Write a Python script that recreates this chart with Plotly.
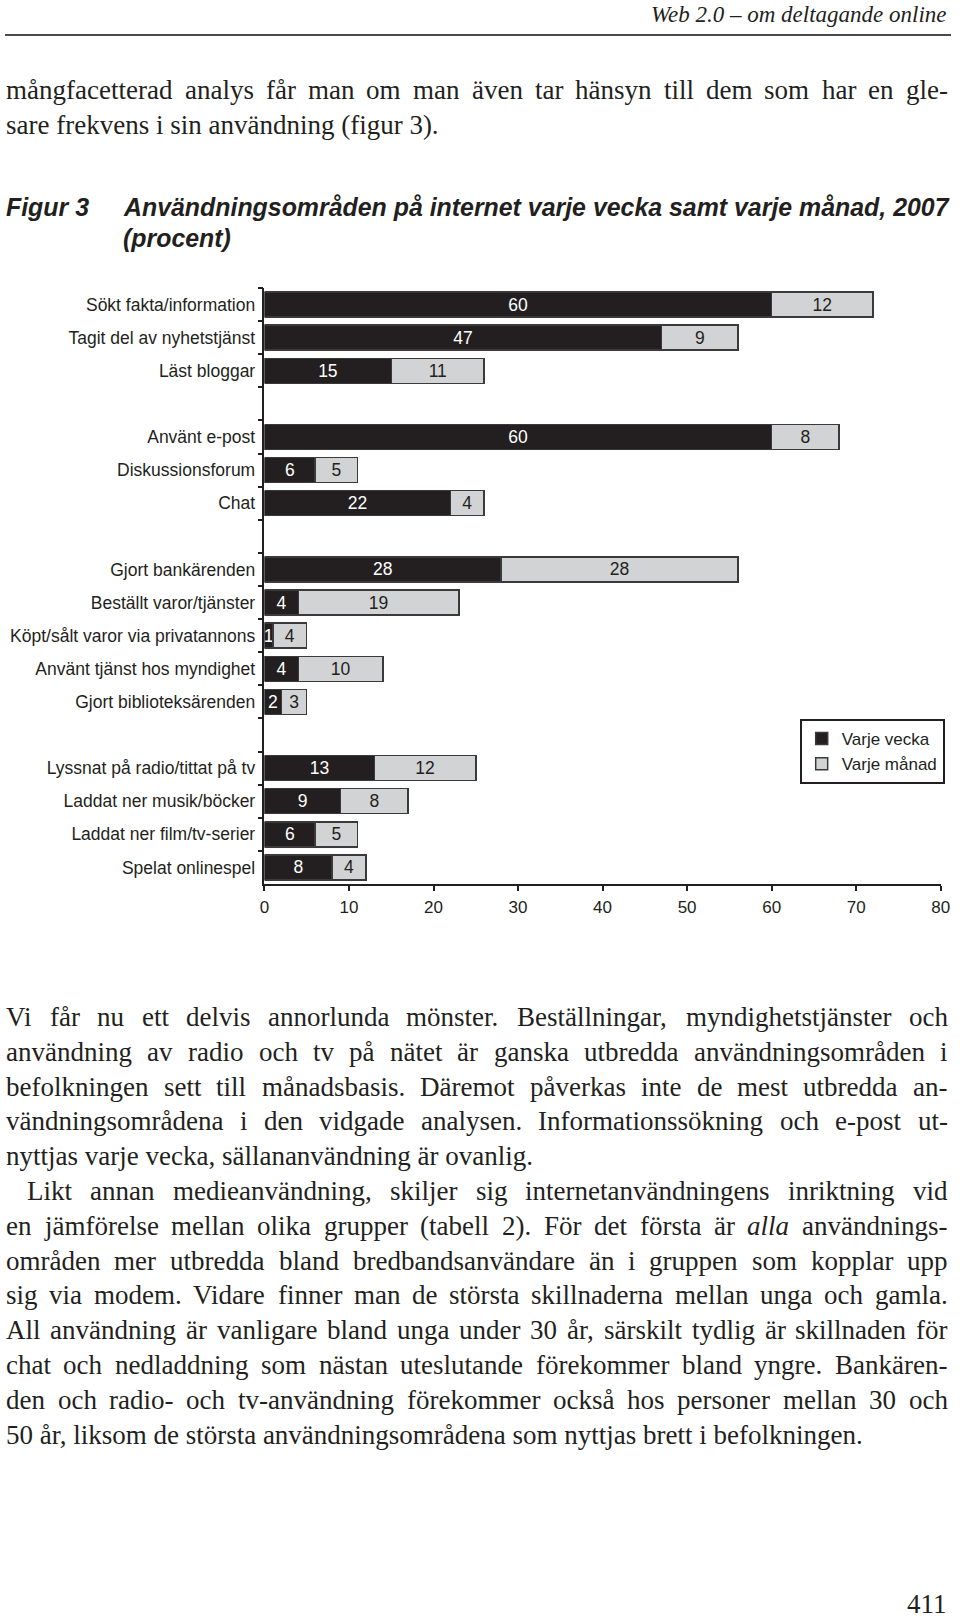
import plotly.graph_objects as go

# ---------------- data ----------------
categories = [
    "Sökt fakta/information", "Tagit del av nyhetstjänst", "Läst bloggar", " ",
    "Använt e-post", "Diskussionsforum", "Chat", "  ",
    "Gjort bankärenden", "Beställt varor/tjänster", "Köpt/sålt varor via privatannons",
    "Använt tjänst hos myndighet", "Gjort biblioteksärenden", "   ",
    "Lyssnat på radio/tittat på tv", "Laddat ner musik/böcker",
    "Laddat ner film/tv-serier", "Spelat onlinespel",
]
weekly = [60, 47, 15, None, 60, 6, 22, None, 28, 4, 1, 4, 2, None, 13, 9, 6, 8]
monthly = [12, 9, 11, None, 8, 5, 4, None, 28, 19, 4, 10, 3, None, 12, 8, 5, 4]
series_names = ["Varje vecka", "Varje månad"]
x_ticks = [0, 10, 20, 30, 40, 50, 60, 70, 80]

header_text = "Web 2.0 – om deltagande online"
fig_label = "Figur 3"
title_lines = ["Användningsområden på internet varje vecka samt varje månad, 2007", "(procent)"]
page_number = "411"

intro_lines = [
    ("mångfacetterad analys får man om man även tar hänsyn till dem som har en gle-", True, 0),
    ("sare frekvens i sin användning (figur 3).", False, 0),
]
body_lines = [
    ("Vi får nu ett delvis annorlunda mönster. Beställningar, myndighetstjänster och", True, 0),
    ("användning av radio och tv på nätet är ganska utbredda användningsområden i", True, 0),
    ("befolkningen sett till månadsbasis. Däremot påverkas inte de mest utbredda an-", True, 0),
    ("vändningsområdena i den vidgade analysen. Informationssökning och e-post ut-", True, 0),
    ("nyttjas varje vecka, sällananvändning är ovanlig.", False, 0),
    ("Likt annan medieanvändning, skiljer sig internetanvändningens inriktning vid", True, 21),
    ("en jämförelse mellan olika grupper (tabell 2). För det första är *alla* användnings-", True, 0),
    ("områden mer utbredda bland bredbandsanvändare än i gruppen som kopplar upp", True, 0),
    ("sig via modem. Vidare finner man de största skillnaderna mellan unga och gamla.", True, 0),
    ("All användning är vanligare bland unga under 30 år, särskilt tydlig är skillnaden för", True, 0),
    ("chat och nedladdning som nästan uteslutande förekommer bland yngre. Bankären-", True, 0),
    ("den och radio- och tv-användning förekommer också hos personer mellan 30 och", True, 0),
    ("50 år, liksom de största användningsområdena som nyttjas brett i befolkningen.", False, 0),
]

# ---------------- page geometry helpers ----------------
W, H = 960, 1618
# the viewer shows the figure about 944 px wide, starting ~6 px from the left
X_OFF, X_EFF = 6.0, 944.3


def px(xp):
    return (xp - X_OFF) / X_EFF


def py(yp):
    return 1 - yp / H


DARK = "#231f20"
LIGHT = "#d1d3d4"
EDGE = "#3a3a3a"
INK = "#231f20"
SANS = "Liberation Sans, Arial, sans-serif"
SERIF = "Liberation Serif, Times New Roman, serif"

fig = go.Figure()

fig.add_trace(go.Bar(
    y=categories, x=weekly, orientation="h", name=series_names[0],
    marker=dict(color=DARK, line=dict(color=EDGE, width=1.5)),
    text=["" if v is None else str(v) for v in weekly],
    textposition="inside", insidetextanchor="middle", textangle=0,
    constraintext="none", cliponaxis=False,
    textfont=dict(family=SANS, size=17.5, color="white"),
    hoverinfo="skip",
))
fig.add_trace(go.Bar(
    y=categories, x=monthly, orientation="h", name=series_names[1],
    marker=dict(color=LIGHT, line=dict(color=EDGE, width=1.5)),
    text=["" if v is None else str(v) for v in monthly],
    textposition="inside", insidetextanchor="middle", textangle=0,
    constraintext="none", cliponaxis=False,
    textfont=dict(family=SANS, size=17.5, color=INK),
    hoverinfo="skip",
))

annotations = []
RIGHT_EDGE = 947

# header
annotations.append(dict(text=f"<i>{header_text}</i>", x=px(RIGHT_EDGE), y=py(14), xref="paper", yref="paper",
                        xanchor="right", yanchor="middle", showarrow=False, borderpad=0,
                        font=dict(family=SERIF, size=23, color=INK)))
# page number
annotations.append(dict(text=page_number, x=px(RIGHT_EDGE), y=py(1604), xref="paper", yref="paper",
                        xanchor="right", yanchor="middle", showarrow=False, borderpad=0,
                        font=dict(family=SERIF, size=27, color=INK)))
# figure title
TITLE_FONT = "Liberation Sans, Arial, sans-serif"
TITLE_SIZE = 24.9
annotations.append(dict(text=f"<b><i>{fig_label}</i></b>", x=px(6), y=py(207), xref="paper", yref="paper",
                        xanchor="left", yanchor="middle", showarrow=False, borderpad=0,
                        font=dict(family=TITLE_FONT, size=TITLE_SIZE, color=INK)))
for i, t in enumerate(title_lines):
    annotations.append(dict(text=f"<b><i>{t}</i></b>", x=px(123), y=py(207 + 31 * i), xref="paper", yref="paper",
                            xanchor="left", yanchor="middle", showarrow=False, borderpad=0,
                            font=dict(family=TITLE_FONT, size=TITLE_SIZE, color=INK)))

# ---------------- justified serif body text (Times metrics) ----------------
TW = {' ': 250, '(': 333, ')': 333, ',': 250, '-': 333, '.': 250, '/': 278, ':': 278, '–': 500,
      'A': 722, 'B': 667, 'C': 667, 'D': 722, 'E': 611, 'F': 556, 'G': 722, 'H': 722, 'I': 333,
      'J': 389, 'K': 722, 'L': 611, 'M': 889, 'N': 722, 'O': 722, 'P': 556, 'Q': 722, 'R': 667,
      'S': 556, 'T': 611, 'U': 722, 'V': 722, 'W': 944, 'X': 722, 'Y': 722, 'Z': 611,
      'a': 444, 'b': 500, 'c': 444, 'd': 500, 'e': 444, 'f': 333, 'g': 500, 'h': 500, 'i': 278,
      'j': 278, 'k': 500, 'l': 278, 'm': 778, 'n': 500, 'o': 500, 'p': 500, 'q': 500, 'r': 333,
      's': 389, 't': 278, 'u': 500, 'v': 500, 'w': 722, 'x': 500, 'y': 500, 'z': 444,
      'å': 444, 'ä': 444, 'ö': 500, 'Ä': 722, 'Ö': 722, 'Å': 722}
TWI = {'a': 500, 'l': 278}


def word_units(w):
    if w.startswith('*') and w.endswith('*'):
        return sum(TWI.get(c, 500) for c in w.strip('*'))
    return sum(TW.get(c, 500) for c in w)


LEFT, RIGHT = 6, RIGHT_EDGE - 1
all_lines = intro_lines + body_lines
fit = []
for line, just, indent in all_lines:
    ws = line.split(' ')
    units = sum(word_units(w) for w in ws) + 250 * (len(ws) - 1)
    fit.append((RIGHT - LEFT - indent) * 1000 / units)
BODY_SIZE = min(min(fit), 27)


def place_lines(lines, y0, dy):
    for k, (line, just, indent) in enumerate(lines):
        yc = y0 + k * dy
        if not just:
            annotations.append(dict(text=line, x=px(LEFT + indent), y=py(yc), xref="paper", yref="paper",
                                    xanchor="left", yanchor="middle", showarrow=False, borderpad=0,
                                    font=dict(family=SERIF, size=BODY_SIZE, color=INK)))
            continue
        ws = line.split(' ')
        wpx = [word_units(w) * BODY_SIZE / 1000 for w in ws]
        gap = (RIGHT - LEFT - indent - sum(wpx)) / (len(ws) - 1)
        x = LEFT + indent
        for w, wp in zip(ws, wpx):
            txt = f"<i>{w.strip('*')}</i>" if w.startswith('*') else w
            annotations.append(dict(text=txt, x=px(x), y=py(yc), xref="paper", yref="paper",
                                    xanchor="left", yanchor="middle", showarrow=False, borderpad=0,
                                    font=dict(family=SERIF, size=BODY_SIZE, color=INK)))
            x += wp + gap


place_lines(intro_lines, 90, 34.6)
place_lines(body_lines, 1017, 34.8)

fig.update_layout(
    width=W, height=H, autosize=False,
    margin=dict(l=0, r=0, t=0, b=0, pad=0),
    paper_bgcolor="white", plot_bgcolor="white",
    barmode="stack", bargap=0.245,
    showlegend=True,
    legend=dict(x=px(944), y=py(719), xanchor="right", yanchor="top",
                bgcolor="white", bordercolor=INK, borderwidth=2,
                font=dict(family=SANS, size=17, color=INK),
                itemwidth=30, traceorder="normal", tracegroupgap=0),
    xaxis=dict(domain=[px(265), px(940)], range=[0, 80], tickvals=x_ticks,
               ticks="outside", ticklen=5, tickwidth=1.5, tickcolor=INK,
               showline=True, linecolor=INK, linewidth=1.5,
               showgrid=False, zeroline=False, fixedrange=True,
               tickfont=dict(family=SANS, size=17, color=INK), ticklabelstandoff=2),
    yaxis=dict(domain=[py(884), py(288)], type="category",
               categoryorder="array", categoryarray=categories, autorange="reversed",
               tickson="boundaries", ticks="outside", ticklen=5, tickwidth=1.5, tickcolor=INK,
               showline=True, linecolor=INK, linewidth=1.5,
               showgrid=False, zeroline=False, fixedrange=True,
               tickfont=dict(family=SANS, size=17.5, color=INK), ticklabelstandoff=4),
    annotations=annotations,
    shapes=[dict(type="line", xref="paper", yref="paper", x0=0, x1=1, y0=py(35), y1=py(35),
                 line=dict(color="#4a4a4a", width=2))],
)

fig.write_html("out.html")
